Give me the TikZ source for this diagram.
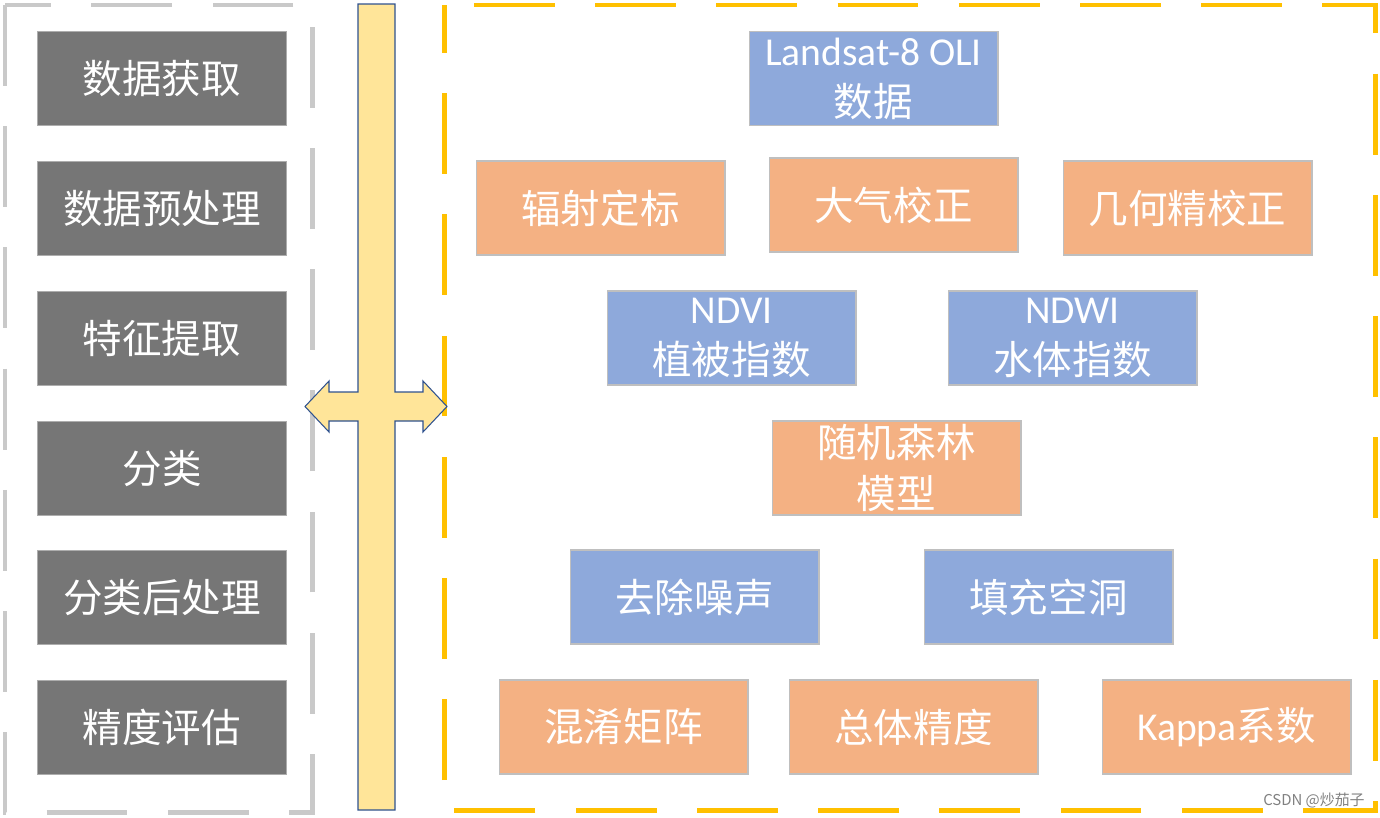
\documentclass[tikz,border=0pt]{standalone}
\usepackage{fontspec}
\setmainfont{Noto Sans CJK SC}
\newfontfamily\lat{Carlito}
\usetikzlibrary{positioning}

\definecolor{stagegray}{HTML}{767676}
\definecolor{dashgray}{HTML}{C9C9C9}
\definecolor{dashgold}{HTML}{FFC000}
\definecolor{barfill}{HTML}{FFE599}
\definecolor{barline}{HTML}{2F528F}
\definecolor{boxblue}{HTML}{8EA9DB}
\definecolor{boxorange}{HTML}{F4B183}
\definecolor{boxline}{HTML}{BFBFBF}

\begin{document}
\begin{tikzpicture}[x=0.02cm, y=-0.02cm]
        \tikzstyle{box}=[rectangle, draw=boxline, line width=0.6pt, minimum width=4.98cm, minimum height=1.88cm, inner sep=0pt, text=white, align=center, font=\fontsize{22.5}{29}\selectfont]
        \tikzstyle{stage}=[box, fill=stagegray, draw=stagegray!60];
        \tikzstyle{blue box}=[box, fill=boxblue];
        \tikzstyle{orange box}=[box, fill=boxorange];
        \tikzstyle{dashframe}=[line width=0.1cm, dash pattern=on 46pt off 23pt];

        \useasboundingbox (0,0) rectangle (1380,818);

        % Dashed frames
        \draw[dashframe, dashgray] (5,5) -- (5,812) -- (312,812) -- (312,5) -- cycle;
        \draw[dashframe, dashgold, dash phase=52pt] (444,5) -- (1375,5) -- (1375,810) -- (444,810) -- cycle;

        % Bar with double arrow
        \draw[fill=barfill, draw=barline, line width=0.6pt]
            (358,4) -- (395,4) -- (395,392) -- (423,392) -- (423,381) -- (447,406.5)
            -- (423,432) -- (423,421) -- (395,421) -- (395,810) -- (358,810)
            -- (358,421) -- (329,421) -- (329,432) -- (305,406.5) -- (329,381)
            -- (329,392) -- (358,392) -- cycle;

        % Workflow stages
        \foreach \name / \y / \txt in {1/78.5/数据获取, 2/208.5/数据预处理, 3/338.5/特征提取,
                                       4/468.5/分类, 5/597.5/分类后处理, 6/727.5/精度评估}
            \node[stage] (S-\name) at (162,\y) {\txt};

        % Data
        \node[blue box] (landsat) at (873.5,78.5) {{\lat Landsat-8 OLI}\\数据};

        % Preprocessing
        \node[orange box] (radcal) at (600.5,208) {辐射定标};
        \node[orange box] (atmcor) at (893.5,205) {大气校正};
        \node[orange box] (geocor) at (1187.5,208) {几何精校正};

        % Features
        \node[blue box] (ndvi) at (731.5,338) {{\lat NDVI}\\植被指数};
        \node[blue box] (ndwi) at (1072.5,338) {{\lat NDWI}\\水体指数};

        % Classification
        \node[orange box] (rf) at (896.5,468) {随机森林\\模型};

        % Post-processing
        \node[blue box] (denoise) at (694.5,597) {去除噪声};
        \node[blue box] (fillhole) at (1048.5,597) {填充空洞};

        % Accuracy
        \node[orange box] (confmat) at (623.5,727) {混淆矩阵};
        \node[orange box] (oa) at (913.5,727) {总体精度};
        \node[orange box] (kappa) at (1226.5,727) {{\lat Kappa}系数};

        % Watermark
        \node[anchor=east, text=black!50, font=\fontsize{8.5}{10}\selectfont, inner sep=0pt] (mark) at (1365,801) {CSDN @炒茄子};

\end{tikzpicture}
\end{document}
